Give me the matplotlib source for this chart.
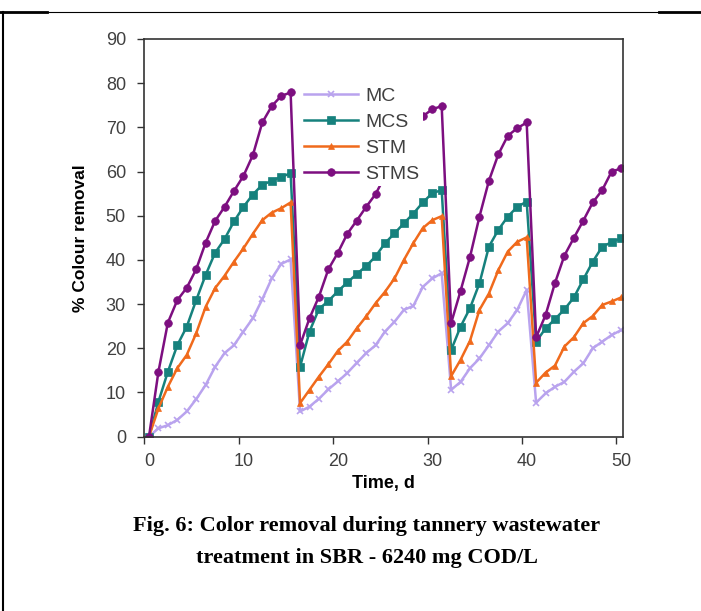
import matplotlib
matplotlib.use("Agg")
import matplotlib.pyplot as plt
from matplotlib.lines import Line2D
from matplotlib.ticker import FixedLocator, NullFormatter, FixedFormatter

# days 0..50, reactor refilled at day 16, 32 and 41
days = list(range(51))

mc = [0, 1.9, 2.6, 3.8, 5.7, 8.5, 11.7, 15.8, 18.9, 20.7, 23.8, 26.8, 31.1, 35.8, 39.1, 40.1,
      5.7, 6.8, 8.6, 10.7, 12.5, 14.4, 16.7, 18.9, 20.7, 23.8, 26.0, 28.7, 29.6, 33.9, 35.8, 37.0,
      10.6, 12.4, 15.5, 17.7, 20.7, 23.8, 25.7, 28.7, 33.2,
      7.7, 9.8, 11.3, 12.4, 14.7, 16.6, 20.0, 21.5, 23.0, 24.1]
mcs = [0, 7.9, 14.7, 20.7, 24.9, 30.9, 36.6, 41.6, 44.7, 48.7, 52.0, 54.8, 57.0, 57.9, 58.8, 59.6,
       15.8, 23.8, 28.9, 30.7, 32.9, 34.9, 36.8, 38.6, 40.8, 43.8, 46.0, 48.3, 50.5, 53.0, 55.1, 55.8,
       19.6, 24.9, 29.1, 34.7, 43.0, 46.8, 49.8, 52.0, 53.2,
       21.5, 24.5, 26.6, 28.8, 31.5, 35.6, 39.6, 43.0, 44.0, 44.9]
stm = [0, 6.4, 11.3, 15.5, 18.5, 23.4, 29.4, 33.6, 36.4, 39.6, 42.6, 45.9, 49.0, 50.7, 51.7, 53.0,
       7.6, 10.6, 13.6, 16.4, 19.4, 21.5, 24.5, 27.2, 30.2, 32.8, 35.8, 40.0, 43.8, 47.2, 49.0, 49.9,
       13.7, 17.4, 21.7, 28.7, 32.4, 37.7, 41.9, 44.1, 45.1,
       12.2, 14.5, 16.1, 20.4, 22.5, 25.7, 27.3, 29.8, 30.6, 31.5]
stms = [0, 14.7, 25.8, 30.9, 33.7, 37.9, 43.9, 48.8, 52.0, 55.6, 59.0, 63.7, 71.1, 74.8, 77.1, 77.9,
        20.7, 26.8, 31.7, 37.9, 41.6, 45.9, 48.9, 52.0, 54.9, 59.0, 62.5, 66.0, 69.5, 72.5, 74.1, 74.8,
        25.7, 33.0, 40.7, 49.8, 57.9, 63.9, 68.1, 69.8, 71.1,
        22.5, 27.5, 34.8, 41.0, 45.0, 48.9, 53.0, 55.8, 60.0, 60.7]

series = [
    ("MC", mc, "#b9a3ee", "x", 4),
    ("MCS", mcs, "#16817d", "s", 5.5),
    ("STM", stm, "#f06a1c", "^", 5),
    ("STMS", stms, "#7d0f80", "o", 5.5),
]

plt.rcParams["font.family"] = ["Liberation Sans", "DejaVu Sans"]

fig = plt.figure(figsize=(7.01, 6.11), dpi=100)
ax = fig.add_axes([0.2054, 0.2853, 0.6833, 0.6509])

for name, vals, col, mk, ms in series:
    ax.plot(days, vals, color=col, lw=1.8, marker=mk, ms=ms, mew=1.2 if mk == "x" else 0.5,
            mec=col, label=name)

ax.set_xlim(-0.53, 50.2)
ax.set_ylim(0, 90)

# ticks sit between days, labels on the days (category style axis)
ax.xaxis.set_major_locator(FixedLocator([-0.5 + 10 * k for k in range(6)]))
ax.xaxis.set_major_formatter(NullFormatter())
ax.xaxis.set_minor_locator(FixedLocator([10 * k for k in range(6)]))
ax.xaxis.set_minor_formatter(FixedFormatter([str(10 * k) for k in range(6)]))
ax.tick_params(axis="x", which="major", direction="out", length=5, width=1, color="#333333")
ax.tick_params(axis="x", which="minor", length=0, pad=12, labelsize=13, labelcolor="#404040")
ax.set_yticks(range(0, 91, 10))
ax.tick_params(axis="y", direction="out", length=5, width=1, color="#333333",
               labelsize=13, labelcolor="#404040", pad=8)

for s in ax.spines.values():
    s.set_color("#333333")
    s.set_linewidth(1.2)

ax.set_xlabel("Time, d", fontsize=13, fontweight="bold", labelpad=3)
ax.set_ylabel("% Colour removal", fontsize=12.5, fontweight="bold", labelpad=13)

leg = ax.legend(loc="upper left", bbox_to_anchor=(0.305, 0.912), fontsize=14, frameon=True,
                fancybox=False, handlelength=2.8, handletextpad=0.35, labelspacing=0.42,
                borderpad=0.2, labelcolor="#404040")
leg.get_frame().set_edgecolor("none")
leg.get_frame().set_facecolor("white")
leg.get_frame().set_alpha(1)

fig.text(0.523, 0.1137, "Fig. 6: Color removal during tannery wastewater\ntreatment in SBR - 6240 mg COD/L",
         ha="center", va="center", fontsize=16, fontweight="bold",
         family=["Liberation Serif", "DejaVu Serif"], linespacing=1.8)

# page frame lines
fig.add_artist(Line2D([0, 1], [0.98, 0.98], color="black", lw=0.8))
fig.add_artist(Line2D([0, 0.067], [0.98, 0.98], color="black", lw=2))
fig.add_artist(Line2D([0.94, 1], [0.98, 0.98], color="black", lw=2))
fig.add_artist(Line2D([0.0045, 0.0045], [0, 0.98], color="black", lw=1.5))

fig.savefig("out.png", dpi=100)
